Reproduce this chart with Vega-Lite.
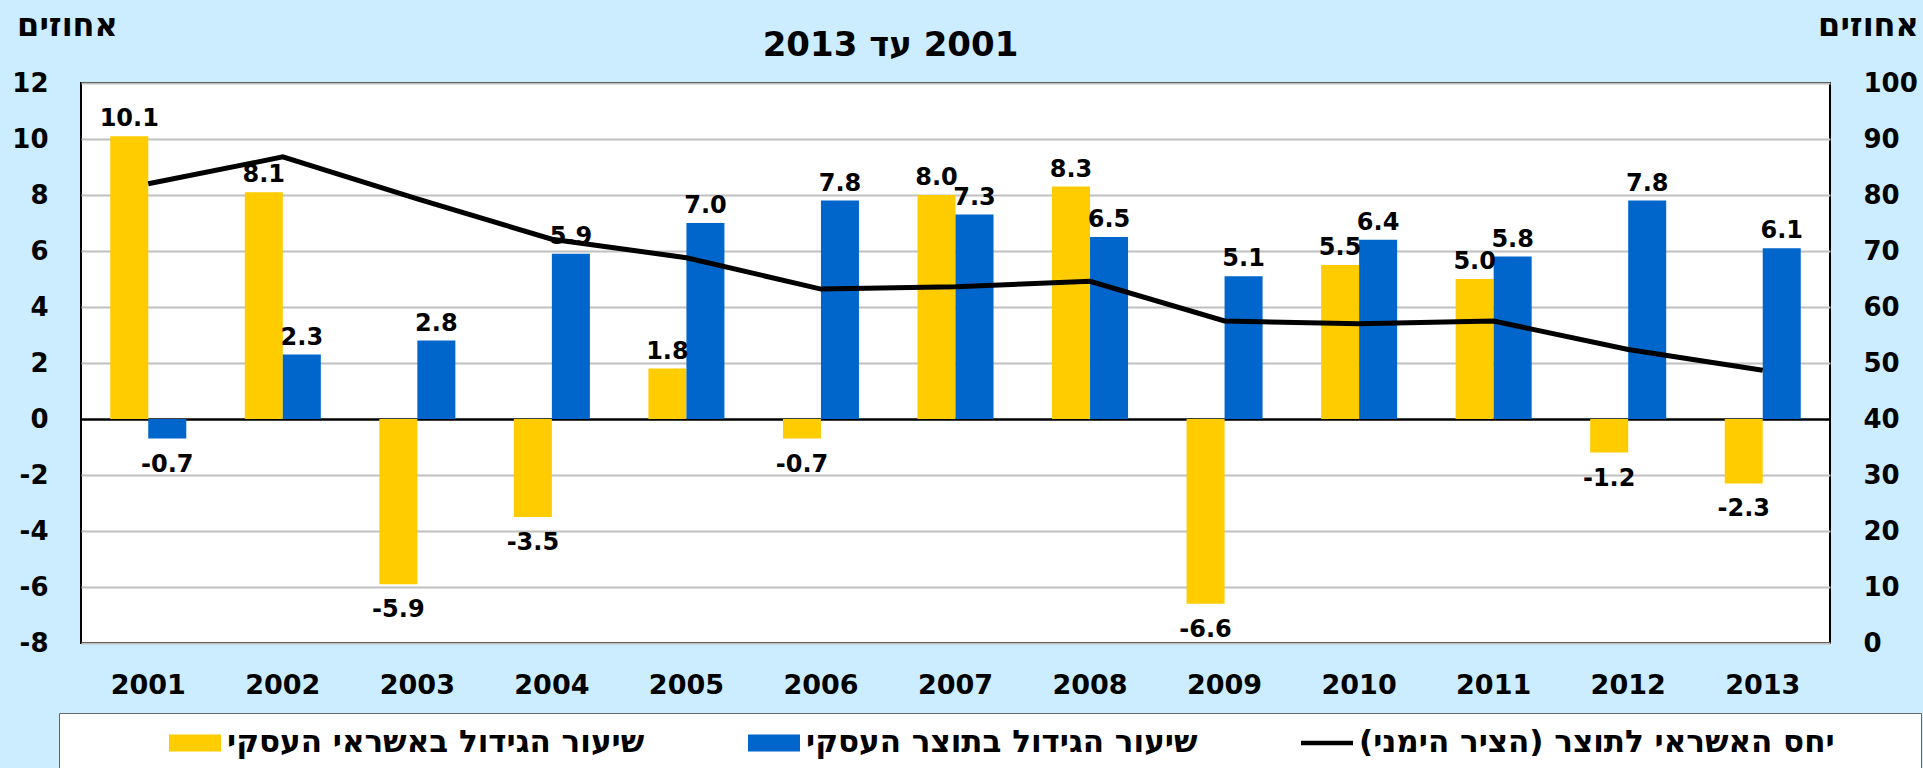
{
  "$schema": "https://vega.github.io/schema/vega-lite/v6.json",
  "width": 1749,
  "height": 560,
  "autosize": {"type": "none"},
  "padding": {"left": 81, "top": 83, "right": 93, "bottom": 125},
  "background": "#CCECFF",
  "title": {
    "text": "‏2001 עד  2013",
    "font": "DejaVu Sans",
    "fontSize": 34,
    "fontWeight": "bold",
    "color": "black",
    "anchor": "middle",
    "frame": "group",
    "dx": -65,
    "dy": 84,
    "offset": 30
  },
  "config": {
    "locale": {"number": {"decimal": ".", "thousands": ",", "grouping": [3], "currency": ["$", ""], "minus": "-"}},
    "view": {"fill": "white", "stroke": "black", "strokeWidth": 2},
    "axis": {"labelFont": "DejaVu Sans", "labelFontWeight": "bold", "labelColor": "black", "titleFont": "DejaVu Sans", "titleFontWeight": "bold", "titleColor": "black"}
  },
  "datasets": {
    "bars": [
      {"year": "2001", "series": "שיעור הגידול באשראי העסקי", "value": 10.1},
      {"year": "2002", "series": "שיעור הגידול באשראי העסקי", "value": 8.1},
      {"year": "2003", "series": "שיעור הגידול באשראי העסקי", "value": -5.9},
      {"year": "2004", "series": "שיעור הגידול באשראי העסקי", "value": -3.5},
      {"year": "2005", "series": "שיעור הגידול באשראי העסקי", "value": 1.8},
      {"year": "2006", "series": "שיעור הגידול באשראי העסקי", "value": -0.7},
      {"year": "2007", "series": "שיעור הגידול באשראי העסקי", "value": 8.0},
      {"year": "2008", "series": "שיעור הגידול באשראי העסקי", "value": 8.3},
      {"year": "2009", "series": "שיעור הגידול באשראי העסקי", "value": -6.6},
      {"year": "2010", "series": "שיעור הגידול באשראי העסקי", "value": 5.5},
      {"year": "2011", "series": "שיעור הגידול באשראי העסקי", "value": 5.0},
      {"year": "2012", "series": "שיעור הגידול באשראי העסקי", "value": -1.2},
      {"year": "2013", "series": "שיעור הגידול באשראי העסקי", "value": -2.3},
      {"year": "2001", "series": "שיעור הגידול בתוצר העסקי", "value": -0.7},
      {"year": "2002", "series": "שיעור הגידול בתוצר העסקי", "value": 2.3},
      {"year": "2003", "series": "שיעור הגידול בתוצר העסקי", "value": 2.8},
      {"year": "2004", "series": "שיעור הגידול בתוצר העסקי", "value": 5.9},
      {"year": "2005", "series": "שיעור הגידול בתוצר העסקי", "value": 7.0},
      {"year": "2006", "series": "שיעור הגידול בתוצר העסקי", "value": 7.8},
      {"year": "2007", "series": "שיעור הגידול בתוצר העסקי", "value": 7.3},
      {"year": "2008", "series": "שיעור הגידול בתוצר העסקי", "value": 6.5},
      {"year": "2009", "series": "שיעור הגידול בתוצר העסקי", "value": 5.1},
      {"year": "2010", "series": "שיעור הגידול בתוצר העסקי", "value": 6.4},
      {"year": "2011", "series": "שיעור הגידול בתוצר העסקי", "value": 5.8},
      {"year": "2012", "series": "שיעור הגידול בתוצר העסקי", "value": 7.8},
      {"year": "2013", "series": "שיעור הגידול בתוצר העסקי", "value": 6.1}
    ],
    "ratio": [
      {"year": "2001", "series": "יחס האשראי לתוצר (הציר הימני)", "value": 82.0},
      {"year": "2002", "series": "יחס האשראי לתוצר (הציר הימני)", "value": 86.8},
      {"year": "2003", "series": "יחס האשראי לתוצר (הציר הימני)", "value": 79.3},
      {"year": "2004", "series": "יחס האשראי לתוצר (הציר הימני)", "value": 72.1},
      {"year": "2005", "series": "יחס האשראי לתוצר (הציר הימני)", "value": 68.8},
      {"year": "2006", "series": "יחס האשראי לתוצר (הציר הימני)", "value": 63.2},
      {"year": "2007", "series": "יחס האשראי לתוצר (הציר הימני)", "value": 63.6},
      {"year": "2008", "series": "יחס האשראי לתוצר (הציר הימני)", "value": 64.6},
      {"year": "2009", "series": "יחס האשראי לתוצר (הציר הימני)", "value": 57.5},
      {"year": "2010", "series": "יחס האשראי לתוצר (הציר הימני)", "value": 57.0},
      {"year": "2011", "series": "יחס האשראי לתוצר (הציר הימני)", "value": 57.5},
      {"year": "2012", "series": "יחס האשראי לתוצר (הציר הימני)", "value": 52.4},
      {"year": "2013", "series": "יחס האשראי לתוצר (הציר הימני)", "value": 48.7}
    ]
  },
  "encoding": {
    "x": {
      "field": "year", "type": "nominal",
      "scale": {"paddingInner": 0.435, "paddingOuter": 0.2175},
      "axis": {"title": null, "labelAngle": 0, "labelFontSize": 27, "labelPadding": 29, "ticks": false, "domain": false}
    }
  },
  "layer": [
    {
      "data": {"name": "bars"},
      "layer": [
        {
          "mark": {"type": "bar"},
          "encoding": {
            "xOffset": {"field": "series", "type": "nominal", "sort": ["שיעור הגידול באשראי העסקי", "שיעור הגידול בתוצר העסקי"]},
            "y": {
              "field": "value", "type": "quantitative",
              "scale": {"domain": [-8, 12], "nice": false, "zero": false},
              "axis": {
                "values": [-8, -6, -4, -2, 0, 2, 4, 6, 8, 10, 12],
                "labelFontSize": 26, "labelPadding": 33, "ticks": false, "domain": false,
                "gridColor": {"condition": {"test": "datum.value === 0", "value": "black"}, "value": "#C0C0C0"},
                "gridWidth": {"condition": {"test": "datum.value === 0", "value": 2.5}, "value": 2},
                "title": "אחוזים", "titleAngle": 0, "titleFontSize": 32, "titleAlign": "center", "titleBaseline": "middle",
                "titleX": -14, "titleY": -58
              }
            },
            "color": {
              "field": "series", "type": "nominal",
              "scale": {
                "domain": ["שיעור הגידול באשראי העסקי", "שיעור הגידול בתוצר העסקי", "יחס האשראי לתוצר (הציר הימני)"],
                "range": ["#FFCC00", "#0066CC", "#000000"]
              },
              "legend": {
                "orient": "none", "legendX": -22, "legendY": 630,
                "direction": "horizontal", "columns": 3, "columnPadding": 103,
                "title": " ", "titleOrient": "left", "titleAngle": 0, "titleFontSize": 10, "titlePadding": 97,
                "fillColor": "white", "strokeColor": "#666666", "padding": 13,
                "symbolSize": 2704, "symbolType": "M-1,-0.33H1V0.33H-1Z", "symbolStrokeWidth": 0,
                "clipHeight": 34,
                "labelFont": "DejaVu Sans", "labelFontSize": 31, "labelFontWeight": "bold", "labelColor": "black",
                "labelLimit": 900, "labelOffset": 6,
                "labelExpr": "'‏' + datum.label + '‏' + (datum.value === 'יחס האשראי לתוצר (הציר הימני)' ? '\u2800\u2800\u2800' : '')",
                "encode": {
                  "symbols": {
                    "update": {
                      "shape": {"signal": "datum.value === 'יחס האשראי לתוצר (הציר הימני)' ? 'M-1,-0.09H1V0.09H-1Z' : 'M-1,-0.33H1V0.33H-1Z'"},
                      "fill": {"scale": "color", "field": "value"},
                      "stroke": {"value": "transparent"},
                      "opacity": {"value": 1},
                      "fillOpacity": {"value": 1}
                    }
                  }
                }
              }
            }
          }
        },
        {
          "transform": [{"filter": "datum.value >= 0"}],
          "mark": {"type": "text", "font": "DejaVu Sans", "fontSize": 24, "fontWeight": "bold", "color": "black", "baseline": "alphabetic", "dy": -10},
          "encoding": {
            "xOffset": {"field": "series", "type": "nominal", "sort": ["שיעור הגידול באשראי העסקי", "שיעור הגידול בתוצר העסקי"]},
            "y": {"field": "value", "type": "quantitative"},
            "text": {"field": "value", "type": "quantitative", "format": ".1f"}
          }
        },
        {
          "transform": [{"filter": "datum.value < 0"}],
          "mark": {"type": "text", "font": "DejaVu Sans", "fontSize": 24, "fontWeight": "bold", "color": "black", "baseline": "top", "dy": 14},
          "encoding": {
            "xOffset": {"field": "series", "type": "nominal", "sort": ["שיעור הגידול באשראי העסקי", "שיעור הגידול בתוצר העסקי"]},
            "y": {"field": "value", "type": "quantitative"},
            "text": {"field": "value", "type": "quantitative", "format": ".1f"}
          }
        }
      ]
    },
    {
      "data": {"name": "ratio"},
      "mark": {"type": "line", "strokeWidth": 5, "strokeJoin": "miter"},
      "encoding": {
        "y": {
          "field": "value", "type": "quantitative",
          "scale": {"domain": [0, 100], "nice": false},
          "axis": {
            "orient": "right", "values": [0, 10, 20, 30, 40, 50, 60, 70, 80, 90, 100],
            "grid": false, "labelFontSize": 26, "labelPadding": 33, "ticks": false, "domain": false,
            "title": "אחוזים", "titleAngle": 0, "titleFontSize": 32, "titleAlign": "center", "titleBaseline": "middle",
            "titleX": 38, "titleY": -58
          }
        },
        "color": {"field": "series", "type": "nominal"}
      }
    }
  ],
  "resolve": {"scale": {"y": "independent"}}
}
